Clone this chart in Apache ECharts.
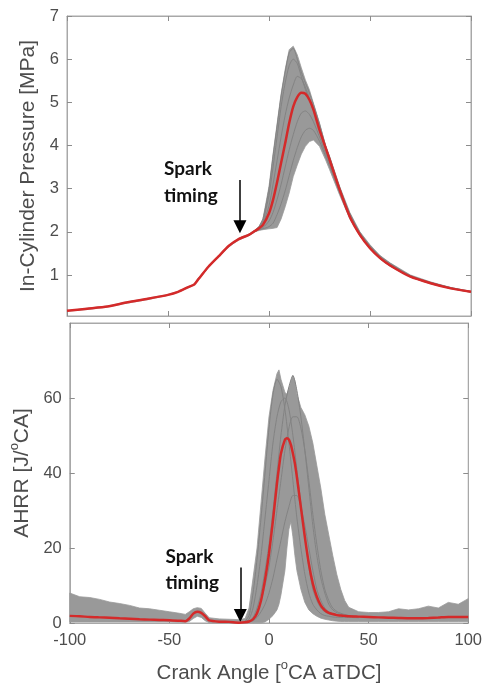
<!DOCTYPE html>
<html><head><meta charset="utf-8">
<script src="https://cdn.jsdelivr.net/npm/echarts@6/dist/echarts.min.js"></script>
<style>html,body{margin:0;padding:0;background:#fff}#c{width:485px;height:686px}</style>
</head><body><div id="c"></div>
<script>
// ---------- axis ticks ----------
const crankTicks = [-100, -50, 0, 50, 100];
const pressureTicks = [1, 2, 3, 4, 5, 6, 7];
const ahrrTicks = [0, 20, 40, 60];
const sparkTiming = -14.4;

// ---------- in-cylinder pressure [MPa] ----------
const pX = [-100,-90,-80,-70,-60,-50,-45,-40,-37,-35,-30,-25,-20,-15,-10,-7,-5,-3,0,2,4,6,8,10,12,14,16,18,20,22,25,28,30,35,40,45,50,55,60,70,80,90,100];
const pMean = [0.17,0.22,0.27,0.37,0.45,0.54,0.61,0.72,0.78,0.9,1.19,1.43,1.67,1.83,1.93,2.02,2.08,2.16,2.43,2.74,3.15,3.6,4.05,4.52,4.9,5.12,5.22,5.2,5.06,4.83,4.36,3.95,3.67,2.97,2.35,1.93,1.62,1.39,1.22,0.96,0.81,0.69,0.61];
const pUpper = [0.17,0.23,0.28,0.38,0.46,0.55,0.62,0.73,0.79,0.93,1.2,1.45,1.69,1.85,1.95,2.04,2.12,2.3,3.05,3.8,4.5,5.2,5.76,6.22,6.3,6.1,5.8,5.52,5.29,4.98,4.52,4.0,3.75,3.05,2.45,2.0,1.7,1.45,1.28,1.0,0.84,0.71,0.62];
const pLower = [0.16,0.2,0.26,0.35,0.43,0.53,0.6,0.7,0.77,0.88,1.17,1.41,1.65,1.81,1.91,2.0,2.03,2.05,2.07,2.08,2.1,2.3,2.58,2.9,3.28,3.55,3.8,3.98,4.09,4.13,3.98,3.67,3.44,2.85,2.3,1.9,1.6,1.37,1.2,0.95,0.8,0.68,0.6];

const gX = [-10,-7,-5,-3,0,2,4,6,8,10,12,14,16,18,20,22,25,28,30,35,40,45,50,55,60,70,80,90,100];
const pCycleA = [1.93,2.02,2.1,2.25,2.85,3.5,4.2,4.9,5.45,5.85,6.0,5.9,5.6,5.3,5.05,4.8,4.4,3.95,3.7,3.0,2.4,1.97,1.66,1.42,1.25,0.98,0.82,0.7,0.61];
const pCycleB = [1.93,2.02,2.09,2.2,2.6,3.1,3.65,4.2,4.7,5.1,5.4,5.6,5.55,5.35,5.1,4.85,4.42,3.98,3.7,3.0,2.38,1.95,1.64,1.4,1.23,0.97,0.82,0.7,0.61];
const pCycleC = [1.93,2.01,2.06,2.1,2.25,2.45,2.75,3.1,3.5,3.9,4.25,4.55,4.75,4.8,4.72,4.55,4.2,3.82,3.58,2.93,2.35,1.93,1.62,1.39,1.22,0.96,0.81,0.69,0.61];
const pCycleD = [1.92,2.0,2.05,2.07,2.12,2.2,2.4,2.65,2.95,3.3,3.65,3.95,4.2,4.35,4.4,4.35,4.1,3.75,3.52,2.9,2.33,1.92,1.61,1.38,1.21,0.96,0.8,0.69,0.6];
const pCycleE = [1.93,2.03,2.12,2.3,3.0,3.75,4.45,5.15,5.7,6.15,6.25,6.0,5.7,5.45,5.22,4.95,4.5,4.0,3.73,3.03,2.43,1.99,1.68,1.44,1.27,0.99,0.83,0.71,0.62];

// ---------- apparent heat release rate [J/°CA] ----------
const aX = [-100,-95,-90,-85,-80,-75,-70,-65,-60,-55,
  -50,-45,-42,-40,-38,-36,-34,-32,-30,
  -25,-20,-15,-12,-10,-8,-6,-4,-2,
  0,2,4,5,6,8,9,10,11,12,13,14,
  16,18,20,22,24,26,28,30,32,34,36,38,40,
  45,50,55,60,65,70,75,80,85,90,95,100];
const aMean = [1.9,1.8,1.6,1.5,1.4,1.25,1.15,1.0,0.9,0.8,
  0.75,0.6,0.5,1.2,2.5,3.0,2.7,1.8,0.7,
  0.35,0.3,0.1,0.2,0.4,1.0,2.6,6.0,11.5,
  18.5,27.4,37.2,41.5,45.2,48.9,49.3,48.9,47.5,45.2,42.5,38.9,
  30.9,22.9,15.8,10.5,7.0,4.7,3.4,2.7,2.4,2.1,2.0,1.9,1.8,
  1.7,1.6,1.5,1.4,1.35,1.3,1.3,1.35,1.45,1.6,1.6,1.6];
const aUpper = [8.0,7.0,6.8,6.3,5.6,5.2,4.7,4.0,3.8,3.4,
  3.0,2.6,2.3,3.0,3.8,4.1,3.9,2.6,1.4,
  1.1,1.0,0.9,1.2,4.0,12.0,20.0,32.0,44.0,
  55.0,62.0,66.5,67.5,65.0,61.5,61.0,62.5,64.5,66.0,64.5,61.0,
  57.5,55.5,52.5,48.0,42.0,36.0,29.0,23.5,18.0,13.0,9.0,6.0,4.2,
  3.0,2.8,2.8,3.0,3.8,3.5,3.8,4.5,4.0,5.5,5.0,6.5];
const aLower = [0.3,0.3,0.3,0.3,0.3,0.3,0.3,0.3,0.3,0.3,
  0.3,0.2,0.2,0.4,1.2,1.8,1.5,0.6,0.1,
  0.05,0.05,0.05,0.05,0.05,0.05,0.05,0.05,0.3,
  1.0,2.0,3.5,5.0,7.5,14.0,20.0,25.0,27.0,23.0,18.0,14.0,
  9.0,5.5,3.5,2.5,1.8,1.3,1.0,0.8,0.6,0.5,0.4,0.4,0.4,
  0.4,0.4,0.4,0.4,0.4,0.4,0.4,0.4,0.4,0.4,0.4,0.4];

const gaX = [-12,-10,-8,-6,-4,-2,0,2,4,6,8,10,12,14,16,18,20,22,24,26,28,30,32,35,40,45];
const aCycle1 = [0.5,2,8,17,28,40,52,61,65,63,57,48,38,28,20,13,8,5,3.5,2.5,2,1.8,1.6,1.5,1.5,1.4];
const aCycle2 = [0.3,1,4,10,18,28,38,48,55,59,60,57,50,41,32,23,15,9,6,4,3,2.5,2.2,2,1.8,1.6];
const aCycle3 = [0.2,0.4,1,3,6,10,15,22,30,38,46,52,55,55,52,46,38,29,21,14,9,6,4,2.8,2,1.7];
const aCycle4 = [0.2,0.3,0.6,1.5,3,5,8,12,17,22,27,31,34,34,31,26,20,14,9,6,4,3,2.4,2,1.8,1.6];
const aCycle5 = [0.2,0.5,1.5,4,8,14,21,30,40,50,58,63,66,62,55,46,36,26,18,12,8,5,3.5,2.5,2,1.7];

// ---------- helpers ----------
const zip = (xs, ys) => xs.map((x, i) => [x, ys[i]]);
const zip3 = (xs, up, lo) => xs.map((x, i) => [x, up[i], lo[i]]);

const FONT = '"Liberation Sans", Arial, sans-serif';
const TXT = '#4d4d4d';
const BORDER = '#a8a8a8';
const TICK = '#8c8c8c';
const GREY_BAND = '#999999';
const GREY_LINE = '#838383';
const RED = '#d42a2a';

function nameStyle(size) {
  return { fontSize: size, color: TXT, fontFamily: FONT,
    rich: { sup: { fontSize: 13, color: TXT, fontFamily: FONT, padding: [0, 0, 15, 0] } } };
}
function xAx(grid, pos, labels, name) {
  return {
    gridIndex: grid, type: 'value', position: pos, min: -100, max: 100, interval: 50,
    axisLine: { show: true, onZero: false, lineStyle: { color: BORDER, width: 1 } },
    axisTick: { show: true, inside: true, length: 5, lineStyle: { color: TICK } },
    axisLabel: { show: labels, fontSize: 16.5, color: TXT, fontFamily: FONT, margin: 9 },
    splitLine: { show: false },
    name: name || '', nameLocation: 'middle', nameGap: 36,
    nameTextStyle: nameStyle(20.5)
  };
}
function yAx(grid, pos, min, max, ticks, labels, name) {
  return {
    gridIndex: grid, type: 'value', position: pos, min: min, max: max,
    axisLine: { show: true, onZero: false, lineStyle: { color: BORDER, width: 1 } },
    axisTick: { show: true, inside: true, length: 5, customValues: ticks, lineStyle: { color: TICK } },
    axisLabel: { show: labels, customValues: ticks, fontSize: 16.5, color: TXT, fontFamily: FONT, margin: 8 },
    splitLine: { show: false },
    name: name || '', nameLocation: 'middle', nameGap: 21,
    nameTextStyle: nameStyle(21)
  };
}

// spread of all cycles: a filled polygon between the upper and lower envelopes,
// positioned through the axes with api.coord
function band(xi, yi, xs, up, lo) {
  const rows = zip3(xs, up, lo);
  return {
    type: 'custom', xAxisIndex: xi, yAxisIndex: yi, silent: true, z: 2,
    data: rows,
    encode: { x: 0, y: [1, 2] },
    renderItem: function (params, api) {
      if (params.dataIndex !== 0) return null;
      const top = rows.map(r => api.coord([r[0], r[1]]));
      const bot = rows.map(r => api.coord([r[0], r[2]])).reverse();
      return {
        type: 'group',
        children: [{
          type: 'polygon',
          shape: { points: top.concat(bot), smooth: 0 },
          style: { fill: GREY_BAND, stroke: GREY_BAND, lineWidth: 0.8 }
        }]
      };
    }
  };
}
function cycle(xi, yi, xs, ys) {
  return { type: 'line', xAxisIndex: xi, yAxisIndex: yi, data: zip(xs, ys), symbol: 'none',
    smooth: 0.25, silent: true, lineStyle: { color: GREY_LINE, width: 1 }, z: 3 };
}
function arrow(top, tipEnd) {
  return {
    silent: true, symbol: ['none', 'triangle'], symbolSize: [13, 13],
    lineStyle: { color: '#000', width: 1.5, type: 'solid' }, itemStyle: { color: '#000' },
    label: { show: false },
    data: [[{ coord: [sparkTiming, top] }, { coord: [sparkTiming, tipEnd] }]]
  };
}

const chart = echarts.init(document.getElementById('c'), null, { renderer: 'canvas' });
const option = {
  animation: false,
  backgroundColor: '#fff',
  grid: [
    { left: 67, right: 14, top: 16, height: 300, show: true, borderColor: BORDER, borderWidth: 1 },
    { left: 67, right: 14, top: 323, height: 300, show: true, borderColor: BORDER, borderWidth: 1 }
  ],
  xAxis: [
    xAx(0, 'bottom', false),
    xAx(0, 'top', false),
    xAx(1, 'bottom', true, 'Crank Angle [{sup|o}CA aTDC]'),
    xAx(1, 'top', false)
  ],
  yAxis: [
    yAx(0, 'left', 0.05, 7, pressureTicks, true, 'In-Cylinder Pressure [MPa]'),
    yAx(0, 'right', 0.05, 7, pressureTicks, false),
    yAx(1, 'left', 0, 80, ahrrTicks, true, 'AHRR [J/{sup|o}CA]'),
    yAx(1, 'right', 0, 80, ahrrTicks, false)
  ],
  series: [
    band(0, 0, pX, pUpper, pLower),
    cycle(0, 0, gX, pCycleA), cycle(0, 0, gX, pCycleB), cycle(0, 0, gX, pCycleC),
    cycle(0, 0, gX, pCycleD), cycle(0, 0, gX, pCycleE),
    { type: 'line', xAxisIndex: 0, yAxisIndex: 0, data: zip(pX, pMean), symbol: 'none',
      smooth: 0.2,
      lineStyle: { color: RED, width: 2.5 }, z: 5, markLine: arrow(3.2, 2.12) },

    band(2, 2, aX, aUpper, aLower),
    cycle(2, 2, gaX, aCycle1), cycle(2, 2, gaX, aCycle2), cycle(2, 2, gaX, aCycle3),
    cycle(2, 2, gaX, aCycle4), cycle(2, 2, gaX, aCycle5),
    { type: 'line', xAxisIndex: 2, yAxisIndex: 2, data: zip(aX, aMean), symbol: 'none',
      smooth: 0.2,
      lineStyle: { color: RED, width: 2.5 }, z: 5, markLine: arrow(14.8, 2.0) }
  ]
};
chart.setOption(option);

// "Spark timing" annotations anchored in data coordinates
function sparkText(gi, x, y1, y2) {
  const p1 = chart.convertToPixel({ xAxisIndex: gi, yAxisIndex: gi }, [x, y1]);
  const p2 = chart.convertToPixel({ xAxisIndex: gi, yAxisIndex: gi }, [x, y2]);
  const st = { fill: '#111', font: 'bold 19px Lato, "Open Sans", sans-serif', textAlign: 'left', textVerticalAlign: 'middle' };
  return [
    { type: 'text', left: p1[0], top: p1[1] - 10, style: Object.assign({ text: 'Spark' }, st), z: 10 },
    { type: 'text', left: p2[0], top: p2[1] - 10, style: Object.assign({ text: 'timing' }, st), z: 10 }
  ];
}
chart.setOption({ graphic: [...sparkText(0, -52, 3.44, 2.83), ...sparkText(2, -52, 17.5, 10.6)] });
</script></body></html>
